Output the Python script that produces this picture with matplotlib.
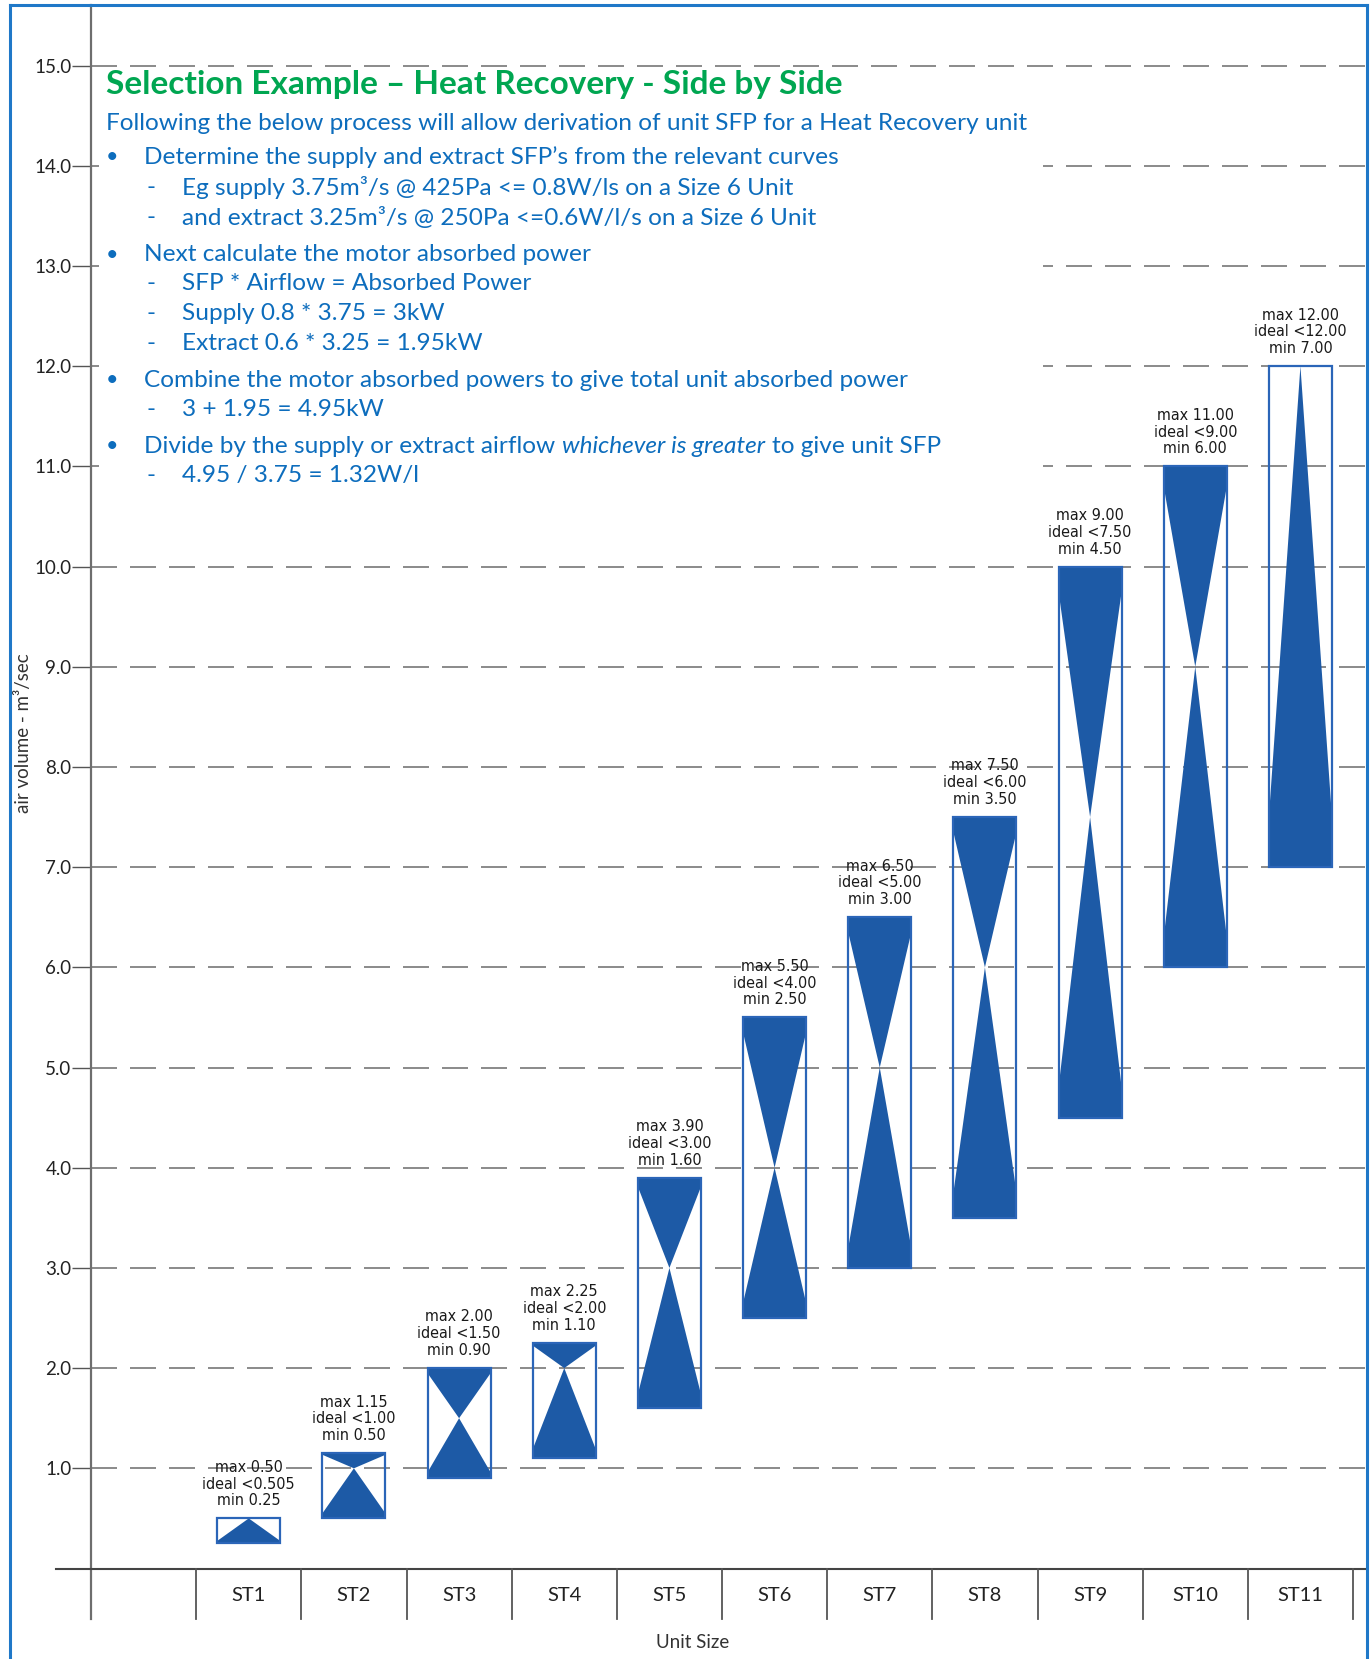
import numpy as np
import matplotlib
matplotlib.use("Agg")
import matplotlib.pyplot as plt
from matplotlib.patches import Rectangle, Polygon
from matplotlib.lines import Line2D

plt.rcParams['font.family'] = ['Lato', 'DejaVu Sans']

# data
units = ['ST1', 'ST2', 'ST3', 'ST4', 'ST5', 'ST6', 'ST7', 'ST8', 'ST9', 'ST10', 'ST11']
box_top = [0.50, 1.15, 2.00, 2.25, 3.90, 5.50, 6.50, 7.50, 10.00, 11.00, 12.00]
box_ideal = [0.50, 1.00, 1.50, 2.00, 3.00, 4.00, 5.00, 6.00, 7.50, 9.00, 12.00]
box_min = [0.25, 0.50, 0.90, 1.10, 1.60, 2.50, 3.00, 3.50, 4.50, 6.00, 7.00]
lbl_max = ['0.50', '1.15', '2.00', '2.25', '3.90', '5.50', '6.50', '7.50', '9.00', '11.00', '12.00']
lbl_ideal = ['<0.505', '<1.00', '<1.50', '<2.00', '<3.00', '<4.00', '<5.00', '<6.00', '<7.50', '<9.00', '<12.00']
lbl_min = ['0.25', '0.50', '0.90', '1.10', '1.60', '2.50', '3.00', '3.50', '4.50', '6.00', '7.00']
yticks = list(range(1, 16))

title = 'Selection Example \u2013 Heat Recovery - Side by Side'
intro = 'Following the below process will allow derivation of unit SFP for a Heat Recovery unit'
# (bullet/dash, text)
notes = [
    ('\u2022', "Determine the supply and extract SFP\u2019s from the relevant curves"),
    ('-', 'Eg supply 3.75m\u00b3/s @ 425Pa <= 0.8W/ls on a Size 6 Unit'),
    ('-', 'and extract 3.25m\u00b3/s @ 250Pa <=0.6W/l/s on a Size 6 Unit'),
    ('\u2022', 'Next calculate the motor absorbed power'),
    ('-', 'SFP * Airflow = Absorbed Power'),
    ('-', 'Supply 0.8 * 3.75 = 3kW'),
    ('-', 'Extract 0.6 * 3.25 = 1.95kW'),
    ('\u2022', 'Combine the motor absorbed powers to give total unit absorbed power'),
    ('-', '3 + 1.95 = 4.95kW'),
    ('\u2022', None),
    ('-', '4.95 / 3.75 = 1.32W/l'),
]
note_y = [14.09, 13.78, 13.48, 13.11, 12.83, 12.53, 12.23, 11.86, 11.57, 11.20, 10.91]

BLUE_FILL = '#1d5aa6'
BLUE_EDGE = '#2b65b8'
BLUE_TEXT = '#0d6dbd'
GREEN = '#00a651'
GRID = '#777777'
FS = 17.6

fig = plt.figure(figsize=(13.72, 16.59), dpi=100)
ax = fig.add_axes([91 / 1372, 90.5 / 1659, 1276 / 1372, 1563.5 / 1659])
ax.set_xlim(-0.5, 11.633)
ax.set_ylim(0, 15.605)
for s in ax.spines.values():
    s.set_visible(False)
ax.set_axisbelow(True)

x = np.arange(1, len(units) + 1)
w = 0.6

# hourglass bars
for xi, t, m, b in zip(x, box_top, box_ideal, box_min):
    xl, xr = xi - w / 2, xi + w / 2
    if t > m:
        band = t - 0.1 * (t - m)
        ax.add_patch(Polygon([(xl, t), (xr, t), (xr, band), (xi, m), (xl, band)],
                             closed=True, fc=BLUE_FILL, ec='none', zorder=2))
    if m > b:
        band = b + 0.1 * (m - b)
        ax.add_patch(Polygon([(xl, b), (xr, b), (xr, band), (xi, m), (xl, band)],
                             closed=True, fc=BLUE_FILL, ec='none', zorder=2))
    ax.add_patch(Rectangle((xl, b), w, t - b, fill=False, ec=BLUE_EDGE, lw=1.6, zorder=2.5))

for xi, t, a, i, n in zip(x, box_top, lbl_max, lbl_ideal, lbl_min):
    ax.text(xi, t + 0.1, f'max {a}\nideal {i}\nmin {n}', ha='center', va='bottom',
            multialignment='center', fontsize=11.5, linespacing=1.15, color='#1a1a1a',
            family='DejaVu Sans', fontstretch='condensed', zorder=3)

# axes lines
ax.plot([-0.5, -0.5], [-0.5, 15.605], color='#6e6e6e', lw=1.6, clip_on=False, zorder=3)
ax.plot([-0.833, 11.633], [0, 0], color='#444444', lw=1.5, clip_on=False, zorder=3)
for b in np.arange(0.5, len(units) + 1, 1.0):
    ax.plot([b, b], [0, -0.5], color='#555555', lw=1.3, clip_on=False, zorder=3)

ax.set_yticks(yticks)
ax.set_yticklabels([f'{v:.1f}' for v in yticks])
ax.tick_params(axis='y', direction='out', length=13.5, width=1.0, color='#555555',
               pad=0.5, labelsize=13.5, labelcolor='#222222')
ax.set_xticks(x)
ax.set_xticklabels(units)
ax.tick_params(axis='x', length=0, pad=13, labelsize=14.5, labelcolor='#222222')
ax.grid(axis='y', linestyle=(0, (15.6, 7.8)), lw=1.2, color=GRID)

ax.set_ylabel('air volume - m\u00b3/sec', fontsize=13.5, color='#333333')
ax.yaxis.set_label_coords(-0.046, 0.534)
ax.set_xlabel('Unit Size', fontsize=13.5, color='#333333')
ax.xaxis.set_label_coords(0.4718, -0.042)

# text panel
ax.add_patch(Rectangle((-0.42, 10.68), 8.97, 4.22, fc='white', ec='none', zorder=1))
ax.text(-0.357, 14.81, title, fontsize=24, fontweight='bold', color=GREEN,
        va='center', ha='left', zorder=3)
ax.text(-0.357, 14.42, intro, fontsize=FS, color=BLUE_TEXT, va='center', ha='left', zorder=3)
for (mark, txt), yy in zip(notes, note_y):
    if mark == '\u2022':
        ax.text(-0.357, yy, mark, fontsize=FS - 2, color=BLUE_TEXT, va='center', zorder=3)
        tx = 0.004
    else:
        ax.text(0.023, yy, mark, fontsize=FS, color=BLUE_TEXT, va='center', zorder=3)
        tx = 0.365
    if txt is not None:
        ax.text(tx, yy, txt, fontsize=FS, color=BLUE_TEXT, va='center', zorder=3)
    else:
        t1 = ax.text(tx, yy, 'Divide by the supply or extract airflow', fontsize=FS,
                     color=BLUE_TEXT, va='center', zorder=3)
        t2 = ax.annotate('whichever is greater', xy=(1, 0), xycoords=t1, xytext=(5, 0),
                         textcoords='offset points', va='bottom', ha='left', fontsize=FS,
                         style='italic', color=BLUE_TEXT, zorder=3)
        ax.annotate('to give unit SFP', xy=(1, 0), xycoords=t2, xytext=(5, 0),
                    textcoords='offset points', va='bottom', ha='left', fontsize=FS,
                    color=BLUE_TEXT, zorder=3)

# page border
for xs, ys in [([9.5 / 1372, 9.5 / 1372], [0, 1654 / 1659]),
               ([9.5 / 1372, 1367 / 1372], [1654 / 1659, 1654 / 1659]),
               ([1367 / 1372, 1367 / 1372], [0, 1654 / 1659])]:
    fig.add_artist(Line2D(xs, ys, transform=fig.transFigure, color='#1f78c8', lw=2.2))

fig.savefig('out.png', dpi=100)
